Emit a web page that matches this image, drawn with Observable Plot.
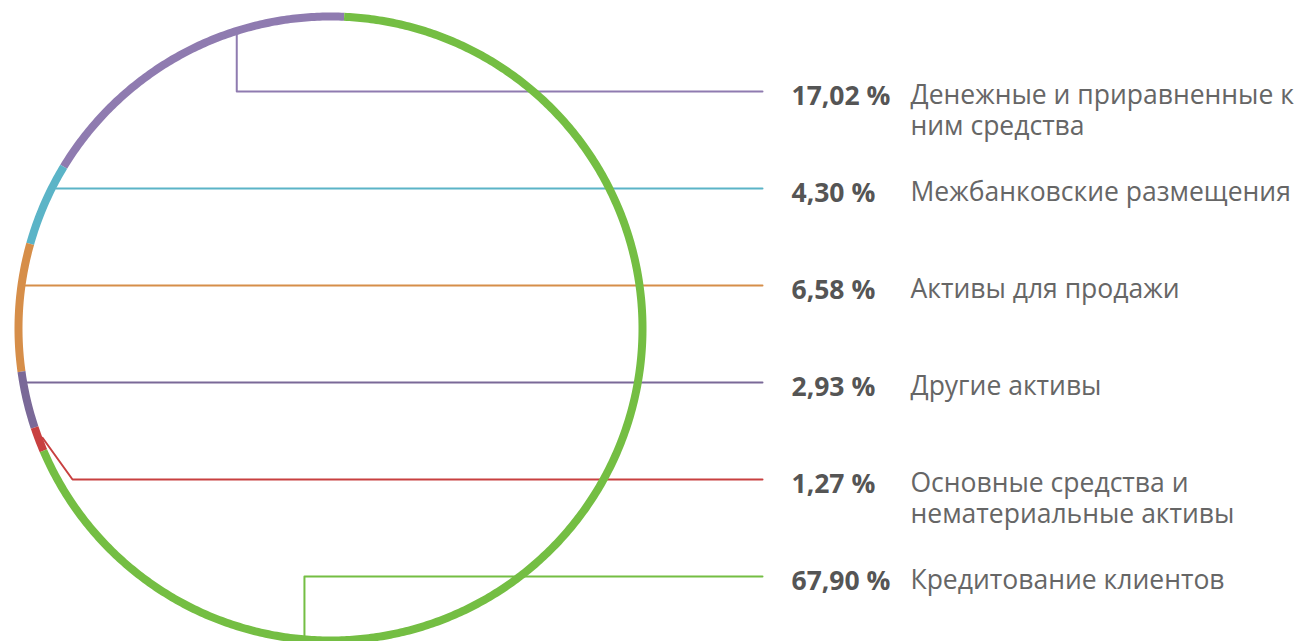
<!DOCTYPE html>
<html><head><meta charset="utf-8">
<script src="https://cdn.jsdelivr.net/npm/d3@7"></script>
<script src="https://cdn.jsdelivr.net/npm/@observablehq/plot@0.6"></script>
<style>html,body{margin:0;padding:0;background:#fff;overflow:hidden}</style>
</head><body><div id="chart"></div>
<script>
// ---- data ----
const categories = [
  "Денежные и приравненные к\nним средства",
  "Межбанковские размещения",
  "Активы для продажи",
  "Другие активы",
  "Основные средства и\nнематериальные активы",
  "Кредитование клиентов"
];
const shares = [17.02, 4.30, 6.58, 2.93, 1.27, 67.90];
const colors = ["#8f7bb0", "#5bb4c7", "#d68e49", "#7a6998", "#c84040", "#74be43"];

// ---- layout ----
const W = 1298, H = 641;
const cx = 330, cy = 328, R = 312, ringW = 8, startDeg = 2.5;
const rIn = R - ringW / 2;
const rowTop = 91, rowGap = 97, leaderEnd = 762, pctX = 791, nameX = 910;
const fontSize = 26.5;

const total = d3.sum(shares);
let acc = 0;
const segs = shares.map((v, i) => {
  const a0 = startDeg - acc / total * 360;
  acc += v;
  const a1 = startDeg - acc / total * 360;
  return {cat: categories[i], a0, a1, rowY: rowTop + i * rowGap};
});
const pt = (deg, r) => {
  const t = deg * Math.PI / 180;
  return [cx + r * Math.sin(t), cy - r * Math.cos(t)];
};
const ringPts = segs.flatMap(s => {
  const n = Math.max(2, Math.ceil(Math.abs(s.a1 - s.a0) / 0.5));
  return d3.range(n + 1).map(k => {
    const [x, y] = pt(s.a0 + (s.a1 - s.a0) * k / n, R);
    return {cat: s.cat, x, y};
  });
});

// leader routing: elbow (first/last), kink (when the row misses its arc), straight otherwise
const routing = ["elbow:0.33", "straight", "straight", "straight", "kink:0.5", "elbow:0.254"];
const leaderPts = segs.flatMap((s, i) => {
  const [type, f] = routing[i].split(":");
  let pts;
  if (type === "straight") {
    const x = cx - Math.sqrt(rIn * rIn - (s.rowY - cy) ** 2);
    pts = [[x, s.rowY], [leaderEnd, s.rowY]];
  } else {
    const [ax, ay] = pt(s.a0 + (s.a1 - s.a0) * (+f), rIn);
    pts = type === "elbow"
      ? [[ax, ay], [ax, s.rowY], [leaderEnd, s.rowY]]
      : [[ax, ay], [ax + 30, s.rowY], [leaderEnd, s.rowY]];
  }
  return pts.map(([x, y]) => ({cat: s.cat, x, y}));
});

const labels = segs.map((s, i) => ({
  cat: s.cat,
  y: s.rowY,
  pct: shares[i].toFixed(2).replace(".", ",") + " %"
}));

const chart = Plot.plot({
  width: W, height: H, margin: 0,
  x: {domain: [0, W], range: [0, W], axis: null},
  y: {domain: [0, H], range: [0, H], axis: null},
  color: {domain: categories, range: colors},
  style: {fontFamily: "'Open Sans', sans-serif", background: "#fff"},
  marks: [
    Plot.line(leaderPts, {x: "x", y: "y", z: "cat", stroke: "cat", strokeWidth: 2, curve: "linear"}),
    Plot.line(ringPts, {x: "x", y: "y", z: "cat", stroke: "cat", strokeWidth: ringW, strokeLinecap: "butt", curve: "linear"}),
    Plot.text(labels, {x: pctX, y: "y", text: "pct", textAnchor: "start", lineAnchor: "top", dy: -5,
      fontSize, fontWeight: "bold", fill: "#555555"}),
    Plot.text(labels, {x: nameX, y: "y", text: "cat", textAnchor: "start", lineAnchor: "top", dy: -9.5,
      fontSize, lineHeight: 1.17, fill: "#666666"})
  ]
});
document.getElementById("chart").appendChild(chart);
</script>
</body></html>
